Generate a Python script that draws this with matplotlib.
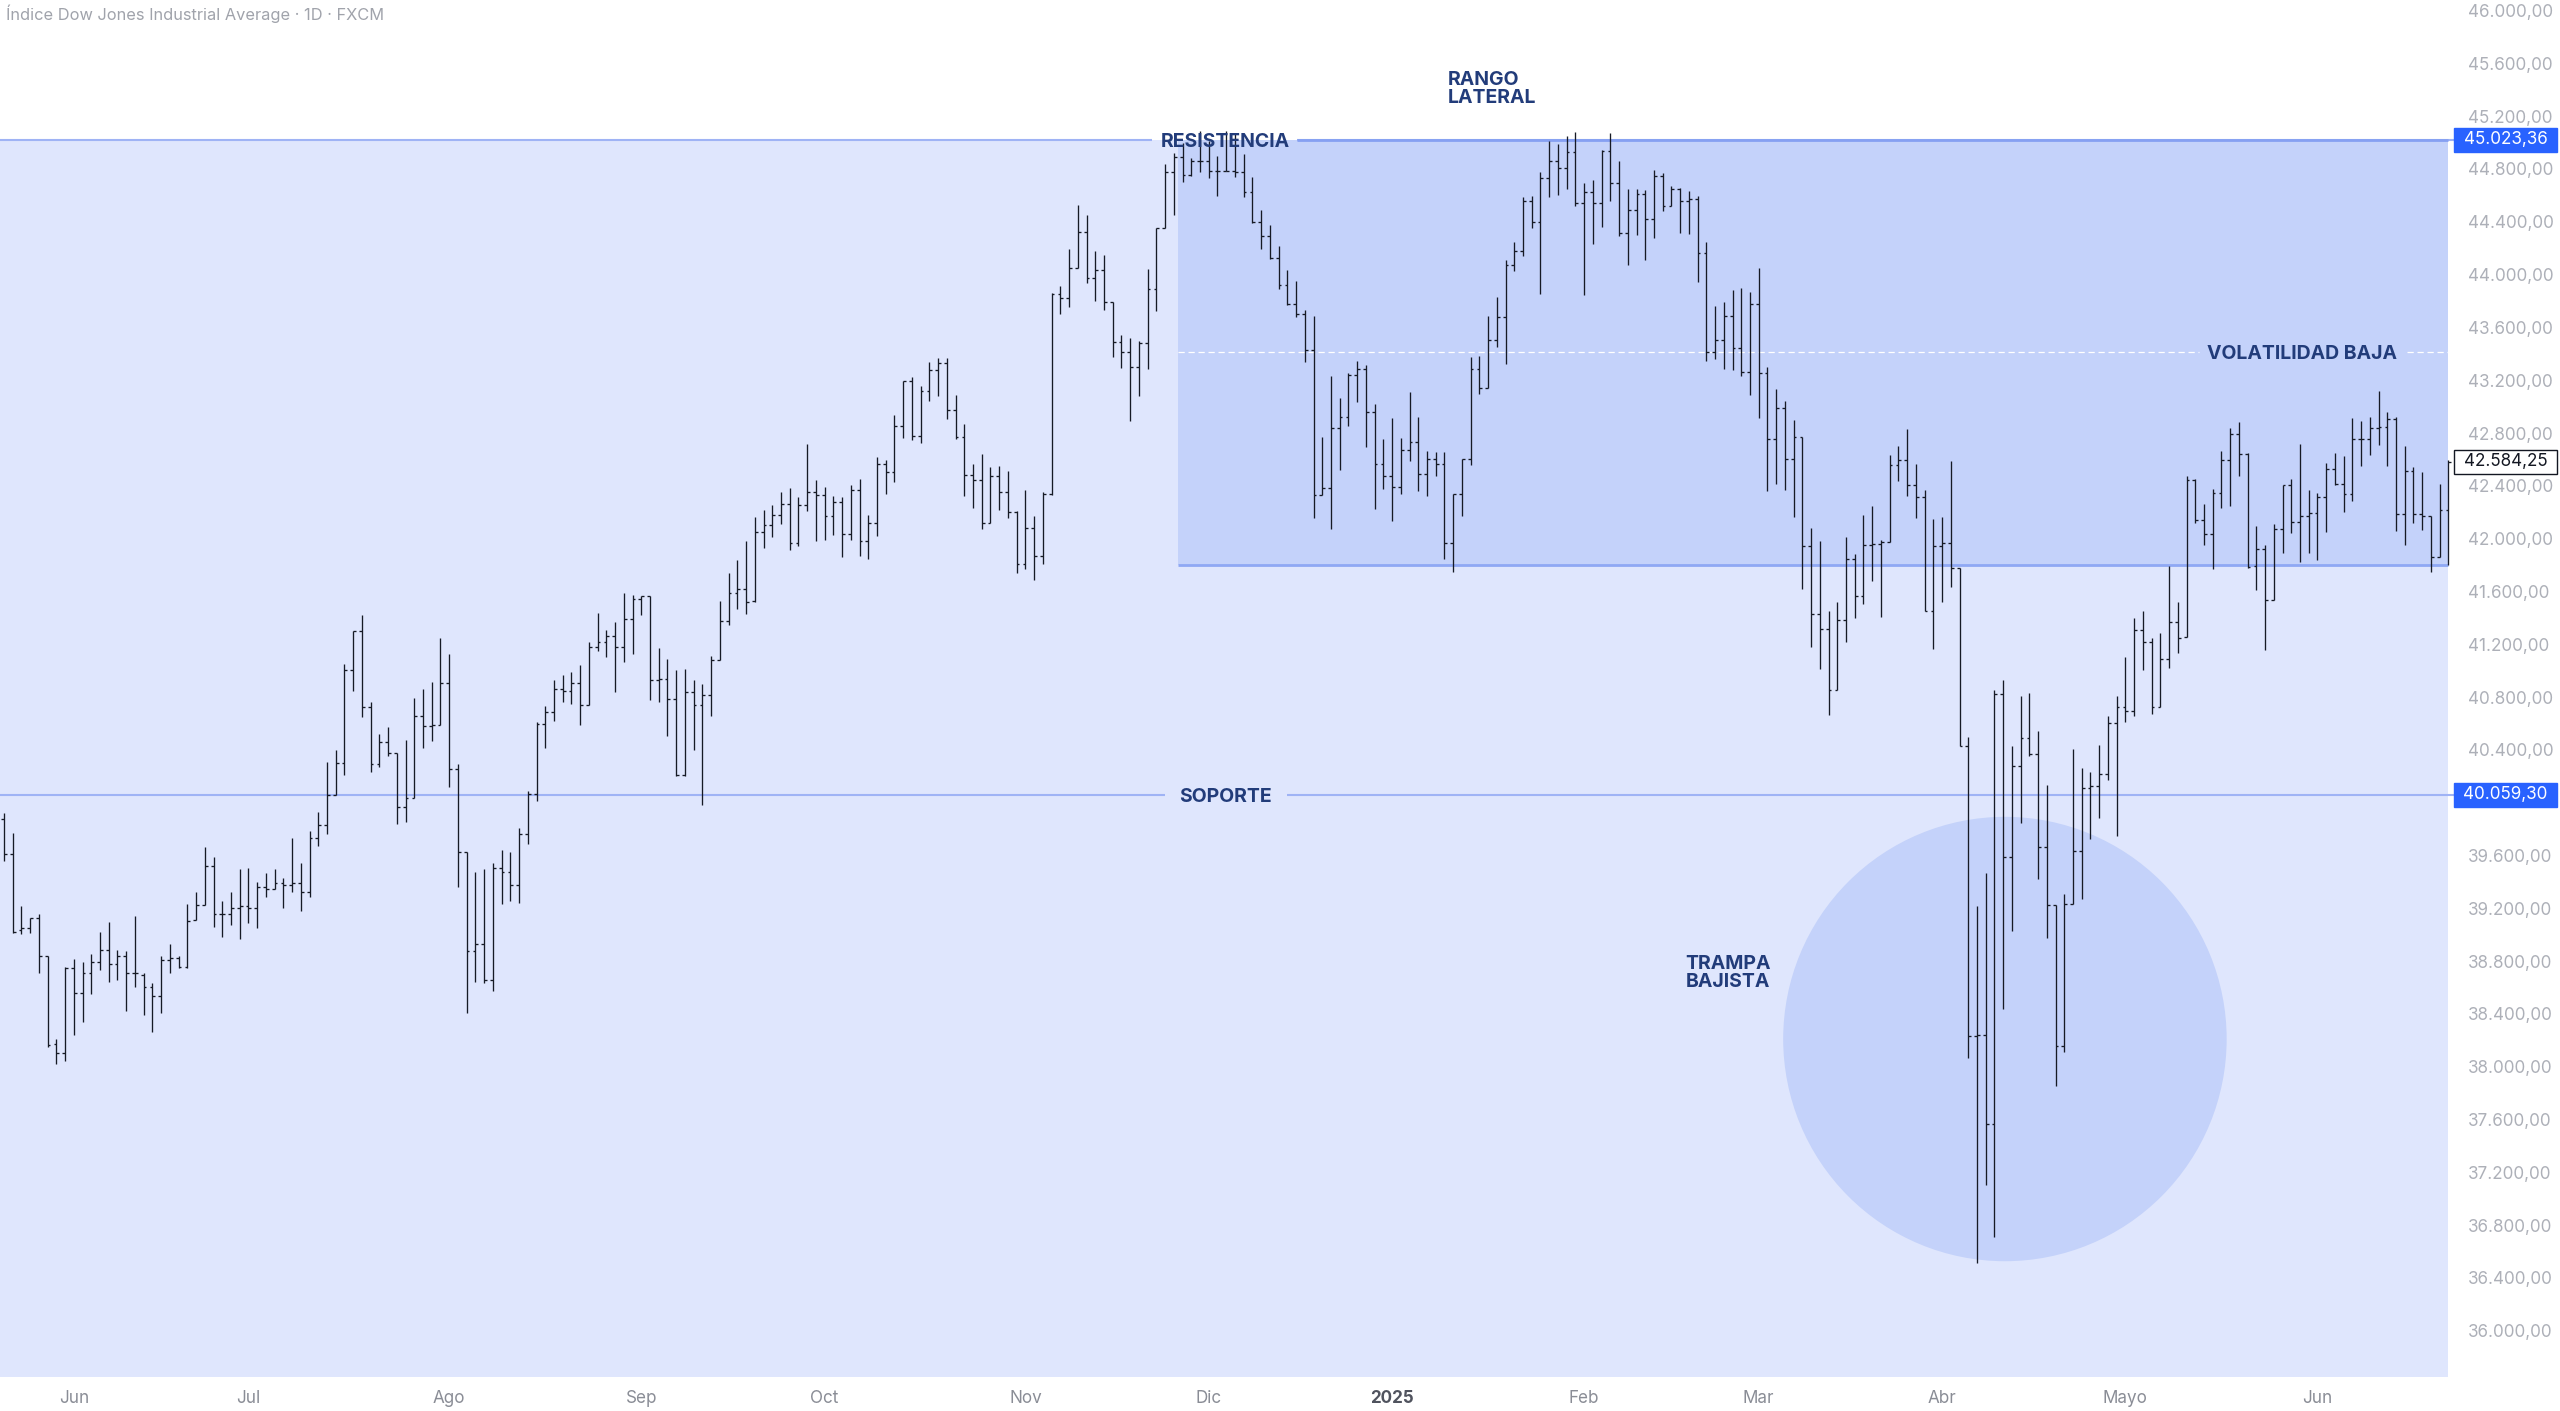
import numpy as np
import matplotlib
matplotlib.use("Agg")
import matplotlib.pyplot as plt
from matplotlib.patches import Rectangle, Ellipse
from matplotlib.transforms import blended_transform_factory

plt.rcParams['font.family'] = ['Inter', 'DejaVu Sans']

# daily OHLC bars, FXCM Dow Jones CFD, 22 May 2024 -> 23 Jun 2025
opens = [
    39875, 39610, 39037, 39049, 39130, 38839, 38170, 38107, 38751, 38557,
    38713, 38792, 38885, 38776, 38842, 38713, 38696, 38602, 38537, 38809,
    38827, 38759, 39112, 39226, 39522, 39155, 39155, 39206, 39214, 39201,
    39360, 39347, 39395, 39373, 39390, 39322, 39736, 39832, 40060, 40297,
    41007, 41297, 40722, 40295, 40456, 40375, 39971, 40034, 40658, 40583,
    40588, 40906, 40254, 39630, 38878, 38928, 38658, 39504, 39474, 39373,
    39762, 40065, 40595, 40686, 40863, 40848, 40906, 40737, 41176, 41217,
    41260, 41176, 41393, 41545, 41563, 40931, 40939, 40787, 40211, 40838,
    40737, 40818, 41078, 41373, 41588, 41618, 41525, 42048, 42106, 42179,
    42262, 41967, 42257, 42353, 42333, 42169, 42278, 42038, 42369, 41982,
    42116, 42563, 42505, 42856, 43194, 42778, 43121, 43278, 43331, 42975,
    42770, 42482, 42444, 42118, 42472, 42353, 42204, 41808, 42081, 41868,
    42338, 43856, 43824, 44048, 44326, 43975, 44038, 43796, 43488, 43412,
    43298, 43480, 43892, 44354, 44778, 44892, 44751, 44859, 44859, 44788,
    44783, 44788, 44778, 44622, 44397, 44291, 44127, 43925, 43781, 43705,
    43432, 42331, 42384, 42836, 42922, 43243, 43286, 42962, 42566, 42472,
    42389, 42674, 42732, 42492, 42606, 42566, 41967, 42338, 42606, 43286,
    43142, 43503, 43677, 44076, 44182, 44561, 44397, 44733, 44859, 44809,
    44930, 44543, 44627, 44543, 44935, 44695, 44316, 44493, 44607, 44422,
    44746, 44518, 44645, 44556, 44569, 44160, 43412, 43508, 43690, 43445,
    43263, 43781, 43255, 42758, 42990, 42606, 42770, 41947, 41429, 41315,
    40856, 41381, 41848, 41563, 41954, 41960, 41975, 42556, 42599, 42409,
    42313, 41454, 41947, 41967, 41778, 40428, 38234, 38242, 37570, 40826,
    39587, 40276, 40489, 40366, 39665, 39226, 38160, 39230, 39632, 40108,
    40129, 40219, 40600, 40723, 40694, 41310, 41215, 40727, 41092, 41371,
    41256, 42446, 42141, 42032, 42348, 42598, 42793, 42641, 41793, 41924,
    41537, 42073, 42404, 42126, 42171, 42197, 42313, 42530, 42414, 42338,
    42757, 42757, 42836, 42843, 42906, 42189, 42515, 42189, 42174, 41861,
    42219,
]
highs = [
    39921, 39769, 39214, 39130, 39158, 38839, 38208, 38759, 38817, 38792,
    38852, 39017, 39100, 38885, 38877, 39143, 38713, 38632, 38839, 38931,
    38839, 39234, 39327, 39661, 39592, 39257, 39322, 39497, 39504, 39398,
    39466, 39497, 39433, 39729, 39542, 39789, 39926, 40305, 40401, 41050,
    41297, 41424, 40762, 40519, 40570, 40375, 40477, 40792, 40863, 40914,
    41247, 41128, 40292, 39630, 39474, 39496, 39542, 39638, 39623, 39812,
    40085, 40615, 40729, 40931, 40964, 40987, 41045, 41214, 41436, 41305,
    41368, 41588, 41570, 41563, 41563, 41171, 41088, 41007, 41012, 40926,
    40898, 41108, 41530, 41740, 41841, 41985, 42164, 42214, 42257, 42353,
    42384, 42313, 42720, 42447, 42391, 42320, 42315, 42404, 42454, 42182,
    42619, 42598, 42939, 43197, 43222, 43159, 43338, 43369, 43369, 43091,
    42869, 42566, 42641, 42540, 42553, 42515, 42210, 42371, 42169, 42351,
    43861, 43917, 44195, 44531, 44455, 44182, 44152, 43796, 43546, 43521,
    43495, 44046, 44354, 44839, 44922, 44998, 44885, 45087, 45011, 44897,
    45087, 45074, 44910, 44740, 44488, 44374, 44215, 44038, 43950, 43730,
    43690, 42768, 43230, 43066, 43255, 43349, 43318, 43020, 42758, 42914,
    42763, 43111, 42922, 42662, 42654, 42656, 42338, 42606, 43374, 43381,
    43685, 43831, 44107, 44248, 44589, 44599, 44776, 45011, 44993, 45049,
    45082, 44695, 44713, 44943, 45069, 44859, 44645, 44652, 44639, 44791,
    44771, 44670, 44657, 44637, 44594, 44248, 43760, 43791, 43882, 43900,
    43867, 44051, 43301, 43137, 43041, 42902, 42770, 42081, 41985, 41454,
    41517, 42013, 41886, 42182, 42245, 41992, 42636, 42700, 42831, 42566,
    42371, 42151, 42162, 42586, 41778, 40498, 39218, 39464, 40850, 40932,
    40428, 40809, 40830, 40543, 40133, 39226, 39308, 40407, 40264, 40235,
    40436, 40653, 40805, 41105, 41400, 41453, 41248, 41289, 41790, 41523,
    42478, 42452, 42265, 42376, 42666, 42838, 42881, 42649, 42098, 41949,
    42111, 42406, 42454, 42719, 42371, 42346, 42570, 42649, 42628, 42914,
    42894, 42921, 43121, 42959, 42921, 42704, 42543, 42507, 42174, 42416,
    42598,
]
lows = [
    39555, 39012, 39004, 39012, 38713, 38153, 38019, 38044, 38241, 38337,
    38549, 38733, 38640, 38658, 38423, 38607, 38393, 38264, 38405, 38713,
    38751, 38746, 39112, 39226, 39062, 38979, 39075, 38968, 39092, 39049,
    39289, 39345, 39201, 39320, 39181, 39289, 39673, 39764, 40060, 40211,
    40848, 40646, 40229, 40267, 40350, 39837, 39853, 40034, 40418, 40469,
    40585, 40118, 39365, 38410, 38640, 38633, 38577, 39231, 39256, 39244,
    39686, 40014, 40418, 40620, 40759, 40747, 40585, 40737, 41151, 41100,
    40838, 41063, 41126, 41419, 40775, 40762, 40509, 40206, 40206, 40401,
    39984, 40653, 41078, 41348, 41467, 41431, 41520, 41929, 42012, 42111,
    41911, 41942, 42207, 41980, 41987, 42025, 41858, 41992, 41866, 41846,
    42017, 42341, 42427, 42762, 42745, 42725, 43040, 43078, 42909, 42755,
    42320, 42232, 42075, 42118, 42214, 42156, 41740, 41770, 41689, 41810,
    42333, 43702, 43755, 44048, 43937, 43798, 43730, 43377, 43293, 42889,
    43083, 43286, 43728, 44354, 44455, 44703, 44746, 44778, 44728, 44594,
    44783, 44740, 44589, 44392, 44197, 44122, 43892, 43768, 43680, 43339,
    42156, 42331, 42073, 42523, 42851, 43033, 42694, 42227, 42379, 42131,
    42338, 42591, 42364, 42321, 42472, 41846, 41747, 42169, 42556, 43099,
    43142, 43452, 43323, 44026, 44144, 44354, 43856, 44586, 44602, 44645,
    44523, 43849, 44233, 44359, 44556, 44291, 44071, 44303, 44107, 44278,
    44485, 44518, 44316, 44309, 43945, 43344, 43361, 43288, 43281, 43230,
    43091, 42914, 42359, 42417, 42371, 42164, 41619, 41177, 41015, 40666,
    40856, 41217, 41399, 41505, 41677, 41404, 41975, 42439, 42321, 42157,
    41454, 41164, 41520, 41631, 40428, 38070, 36511, 37106, 36708, 38439,
    39025, 39846, 40354, 39423, 38972, 37852, 38111, 39230, 39267, 39723,
    39887, 40170, 39751, 40612, 40654, 41002, 40674, 40727, 41023, 41133,
    41256, 42122, 41954, 41770, 42232, 42245, 42477, 41777, 41613, 41158,
    41537, 41891, 42043, 41820, 41891, 41835, 42050, 42409, 42202, 42287,
    42553, 42631, 42712, 42553, 42055, 41954, 42118, 42068, 41744, 41861,
    41797,
]
closes = [
    39610, 39024, 39049, 39125, 38839, 38165, 38107, 38751, 38557, 38713,
    38792, 38885, 38776, 38842, 38713, 38708, 38602, 38537, 38809, 38822,
    38759, 39107, 39226, 39522, 39155, 39155, 39206, 39214, 39201, 39360,
    39347, 39395, 39373, 39390, 39322, 39736, 39832, 40060, 40297, 41007,
    41297, 40722, 40295, 40456, 40375, 39971, 40034, 40658, 40583, 40588,
    40906, 40254, 39630, 38878, 38928, 38658, 39504, 39474, 39373, 39762,
    40065, 40595, 40686, 40863, 40848, 40906, 40737, 41176, 41217, 41260,
    41176, 41393, 41545, 41563, 40931, 40939, 40787, 40211, 40838, 40737,
    40818, 41078, 41373, 41588, 41618, 41520, 42048, 42106, 42179, 42262,
    41967, 42257, 42353, 42333, 42169, 42278, 42038, 42369, 41982, 42116,
    42563, 42505, 42856, 43194, 42778, 43121, 43278, 43331, 42975, 42770,
    42482, 42444, 42118, 42472, 42353, 42204, 41808, 42081, 41868, 42338,
    43856, 43824, 44048, 44326, 43975, 44038, 43796, 43488, 43412, 43298,
    43480, 43892, 44354, 44778, 44892, 44751, 44859, 44859, 44788, 44783,
    44788, 44778, 44622, 44397, 44291, 44127, 43925, 43781, 43705, 43432,
    42331, 42384, 42836, 42922, 43243, 43286, 42962, 42566, 42472, 42389,
    42674, 42732, 42492, 42606, 42566, 41967, 42338, 42606, 43286, 43142,
    43503, 43677, 44076, 44182, 44561, 44397, 44733, 44859, 44809, 44930,
    44543, 44627, 44543, 44935, 44695, 44316, 44493, 44607, 44422, 44746,
    44518, 44645, 44556, 44569, 44160, 43412, 43508, 43690, 43445, 43263,
    43781, 43255, 42758, 42990, 42606, 42770, 41947, 41429, 41315, 40856,
    41381, 41848, 41563, 41954, 41960, 41975, 42556, 42599, 42409, 42313,
    41454, 41947, 41967, 41778, 40428, 38234, 38242, 37570, 40826, 39587,
    40276, 40489, 40366, 39665, 39226, 38160, 39230, 39632, 40108, 40129,
    40219, 40600, 40723, 40694, 41310, 41215, 40727, 41092, 41371, 41248,
    42446, 42138, 42032, 42348, 42598, 42793, 42641, 41785, 41924, 41537,
    42073, 42404, 42126, 42171, 42197, 42313, 42530, 42414, 42338, 42757,
    42757, 42836, 42843, 42906, 42189, 42515, 42189, 42174, 41861, 42219,
    42584.25,
]

# month labels sit on the first bar of each month
month_pos = [8, 28, 51, 73, 94, 117, 138, 159, 181, 201, 222, 243, 265]
month_lbl = ['Jun', 'Jul', 'Ago', 'Sep', 'Oct', 'Nov', 'Dic', '2025',
             'Feb', 'Mar', 'Abr', 'Mayo', 'Jun']

resistance = 45023.36
support = 40059.30
range_low = 41802
range_mid = (resistance + range_low) / 2
range_start = 134.5
last_price = closes[-1]

trap_x, trap_y = 229.2, 38210      # circle centre (bar index, price)
trap_rx, trap_ry = 25.4, 1683      # radii in bars / price units

title = 'Índice Dow Jones Industrial Average · 1D · FXCM'


def price_fmt(v):
    s = f"{v:,.2f}"
    return s.replace(',', 'X').replace('.', ',').replace('X', '.')


W, H = 2560, 1411
fig = plt.figure(figsize=(W / 100, H / 100), dpi=100)
fig.patch.set_facecolor('white')
ax = fig.add_axes([0, 34 / H, 2456 / W, 1377 / H])
ax.set_facecolor('white')

x0, x1 = -0.458, 280.87
xr = 279.9
y0, y1 = 35650, 46080
ax.set_xlim(x0, x1)
ax.set_ylim(y0, y1)
for s in ax.spines.values():
    s.set_visible(False)

light = '#dfe6fd'
dark = '#c4d2fa'
navy = '#223c7a'
px = (y1 - y0) / 1377          # price units per pixel

# background zones
ax.add_patch(Rectangle((x0, y0), xr - x0, resistance - y0, fc=light, ec='none', zorder=0))
ax.add_patch(Rectangle((range_start, range_low), xr - range_start, resistance - range_low,
                       fc=dark, ec='none', zorder=0.5))
ax.add_patch(Ellipse((trap_x, trap_y), 2 * trap_rx, 2 * trap_ry, fc=dark, ec='none', zorder=0.6))

# horizontal levels (with gaps where the labels sit)
line_c = '#9fb3f5'
ax.hlines([resistance, resistance], [x0, 148.1], [131.5, x1], color=line_c, lw=1.5, zorder=2)
ax.hlines([support, support], [x0, 147.0], [133.0, x1], color=line_c, lw=1.5, zorder=2)
ax.hlines([resistance], 148.1, xr, color='#86a0f2', lw=2, zorder=2.1)
ax.hlines([range_low], range_start, xr, color='#8fa8f4', lw=2, zorder=2.1)
ax.hlines([range_mid, range_mid], [range_start, 275.3], [251.4, xr], color='white', lw=0.9,
          linestyles=[(0, (5, 3))], zorder=2)

# OHLC bars
x = np.arange(len(closes))
bar_c = '#161a25'
tick = 0.32
ax.vlines(x, lows, highs, color=bar_c, lw=0.95, zorder=3)
ax.hlines(opens, x - tick, x, color=bar_c, lw=0.95, zorder=3)
ax.hlines(closes, x, x + tick, color=bar_c, lw=0.95, zorder=3)

# annotations
kw = dict(color=navy, fontsize=14, fontweight='bold', zorder=4)
ax.text(139.9, resistance - 7 * px, 'RESISTENCIA', ha='center', va='baseline', **kw)
ax.text(139.9, support - 7 * px, 'SOPORTE', ha='center', va='baseline', **kw)
ax.text(263.2, range_mid - 7 * px, 'VOLATILIDAD BAJA', ha='center', va='baseline', **kw)
ax.text(165.4, 45425 - 3 * px, 'RANGO\nLATERAL', ha='left', va='center', linespacing=1.0, **kw)
ax.text(192.6, 38733 - 3 * px, 'TRAMPA\nBAJISTA', ha='left', va='center', linespacing=1.0, **kw)

# right price scale
ticks = [v for v in np.arange(36000, 46001, 400) if v != 40000]
ax.yaxis.tick_right()
ax.set_yticks(ticks)
ax.set_yticklabels([price_fmt(v) for v in ticks])
ax.tick_params(axis='y', length=0, pad=8.5, labelsize=12.3, labelcolor='#adb0b8')

# price labels on the scale
tr = blended_transform_factory(fig.transFigure, ax.transData)
box_h = 24 * px
for val, fc, ec, tc in [(resistance, '#2962ff', '#2962ff', 'white'),
                        (support, '#2962ff', '#2962ff', 'white'),
                        (last_price, 'white', '#131722', '#131722')]:
    ax.add_patch(Rectangle((2454 / W, val - box_h / 2), 103 / W, box_h, transform=tr,
                           fc=fc, ec=ec, lw=1, clip_on=False, zorder=5))
    ax.text(2505.5 / W, val, price_fmt(val), transform=tr, ha='center', va='center',
            fontsize=12.3, color=tc, zorder=6, clip_on=False)

# time scale
ax.set_xticks(month_pos)
ax.set_xticklabels(month_lbl)
ax.tick_params(axis='x', length=0, pad=9.5, labelsize=12.3, labelcolor='#8a8d96')
lbl = ax.get_xticklabels()[7]
lbl.set_fontweight('bold')
lbl.set_color('#50535e')

fig.text(6 / W, 1 - 14 / H, title, ha='left', va='center', fontsize=11.8, color='#a0a3ab')

fig.savefig('out.png', dpi=100, facecolor='white')
